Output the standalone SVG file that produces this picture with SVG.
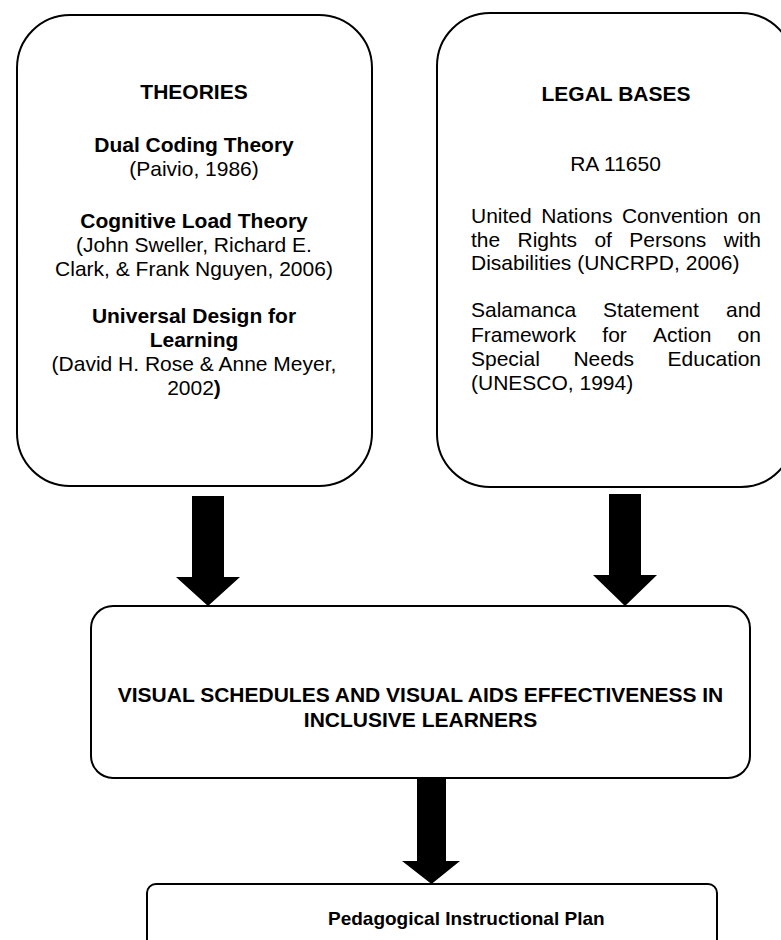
<svg xmlns="http://www.w3.org/2000/svg" width="781" height="940" viewBox="0 0 781 940">
<style>
.box{fill:#fff;stroke:#000;stroke-width:2}
.t{font-family:"Liberation Sans",Arial,sans-serif;font-size:21px;fill:#000}
.b{font-weight:bold}
.c{text-anchor:middle}
.arr{fill:#000}
</style>
<rect width="781" height="940" fill="#fff"/>
<g id="theories">
<rect class="box" x="17" y="15" width="355" height="471" rx="53" ry="53"/>
<text class="t b c" x="194" y="99">THEORIES</text>
<text class="t b c" x="194" y="152">Dual Coding Theory</text>
<text class="t c" x="194" y="176">(Paivio, 1986)</text>
<text class="t b c" x="194" y="228">Cognitive Load Theory</text>
<text class="t c" x="194" y="252">(John Sweller, Richard E.</text>
<text class="t c" x="194" y="276">Clark, &amp; Frank Nguyen, 2006)</text>
<text class="t b c" x="194" y="323">Universal Design for</text>
<text class="t b c" x="194" y="347">Learning</text>
<text class="t c" x="194" y="371">(David H. Rose &amp; Anne Meyer,</text>
<text class="t c" x="194" y="395">2002<tspan class="b">)</tspan></text>
</g>
<g id="legal">
<rect class="box" x="437" y="13" width="357" height="474" rx="53" ry="53"/>
<text class="t b c" x="616" y="101">LEGAL BASES</text>
<text class="t c" x="615.5" y="171">RA 11650</text>
<text class="t" y="223"><tspan x="471">United</tspan><tspan x="541.2">Nations</tspan><tspan x="621.9">Convention</tspan><tspan x="737.6">on</tspan></text>
<text class="t" y="246.5"><tspan x="471">the</tspan><tspan x="517.5">Rights</tspan><tspan x="594.4">of</tspan><tspan x="629.3">Persons</tspan><tspan x="723.7">with</tspan></text>
<text class="t" x="471" y="270">Disabilities (UNCRPD, 2006)</text>
<text class="t" y="317"><tspan x="471">Salamanca</tspan><tspan x="603.1">Statement</tspan><tspan x="726">and</tspan></text>
<text class="t" y="341.5"><tspan x="471">Framework</tspan><tspan x="602.3">for</tspan><tspan x="653">Action</tspan><tspan x="737.6">on</tspan></text>
<text class="t" y="365.5"><tspan x="471">Special</tspan><tspan x="573.4">Needs</tspan><tspan x="667.6">Education</tspan></text>
<text class="t" x="471" y="389.5">(UNESCO, 1994)</text>
</g>
<g id="effectiveness">
<rect class="box" x="91" y="606" width="659" height="172" rx="22" ry="22"/>
<text class="t b c" x="420.5" y="702">VISUAL SCHEDULES AND VISUAL AIDS EFFECTIVENESS IN</text>
<text class="t b c" x="420.5" y="727">INCLUSIVE LEARNERS</text>
</g>
<g id="plan">
<rect class="box" x="147" y="884" width="570" height="90" rx="9" ry="9"/>
<text class="t b" x="328" y="925" style="font-size:19px">Pedagogical Instructional Plan</text>
</g>
<g id="connectors">
<polygon class="arr" points="192,496 224,496 224,577 240,577 208,606 176,577 192,577"/>
<polygon class="arr" points="609,494 641,494 641,575 657,575 625,606 593,575 609,575"/>
<polygon class="arr" points="417,778 446,778 446,861 460,861 431.5,884 402,861 417,861"/>
</g>
</svg>
